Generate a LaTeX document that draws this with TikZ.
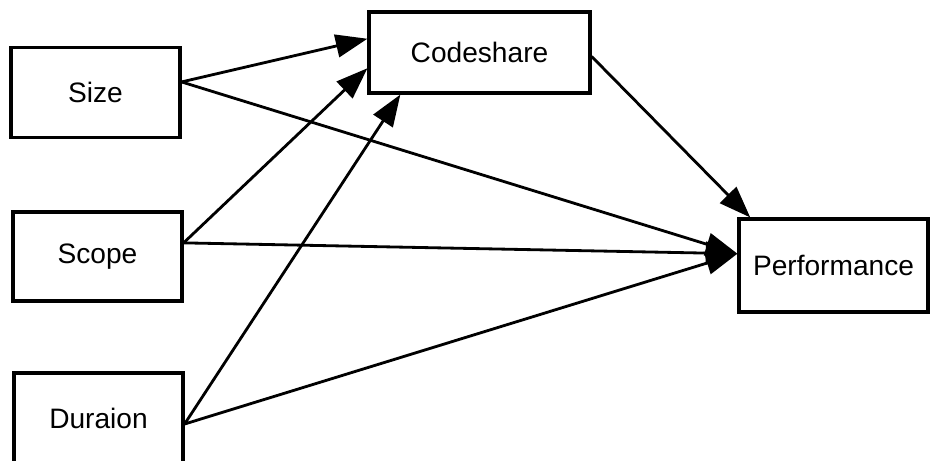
\documentclass[tikz,border=0pt]{standalone}
\usepackage{fontspec}
\setmainfont{Liberation Sans}
\usetikzlibrary{arrows.meta}

\tikzset{
  var/.style={draw, line width=1.8pt, minimum width=3.38cm, minimum height=1.8cm, font=\fontsize{16}{19}\selectfont},
  pfeil/.style={line width=1.6pt, -{Triangle[length=18pt, width=13pt]}}
}

\begin{document}
\begin{tikzpicture}
\useasboundingbox (0,0) rectangle (18.6,9.2);
\node[var] (Size) at (1.91,7.35) {Size};
\node[var, minimum height=1.78cm] (Scope) at (1.95,4.07) {Scope};
\node[var] (Duraion) at (1.97,0.84) {Duraion};
\node[var, minimum width=4.42cm, minimum height=1.62cm] (Codeshare) at (9.59,8.15) {Codeshare};
\node[var, minimum width=3.78cm, minimum height=1.86cm] (Performance) at (16.67,3.89) {Performance};

\draw[pfeil] (Size.7)      -- (Codeshare.173.5);
\draw[pfeil] (Size.7)      -- (Performance.173.6);
\draw[pfeil] (Scope.9.7)   -- (Codeshare.188);
\draw[pfeil] (Scope.9.7)   -- (Performance.173.6);
\draw[pfeil] (Duraion.-4.7) -- (Codeshare.208.5);
\draw[pfeil] (Duraion.-4.7) -- (Performance.173.6);
\draw[pfeil] (Codeshare.-2.8) -- (Performance.150.6);

\end{tikzpicture}
\end{document}
